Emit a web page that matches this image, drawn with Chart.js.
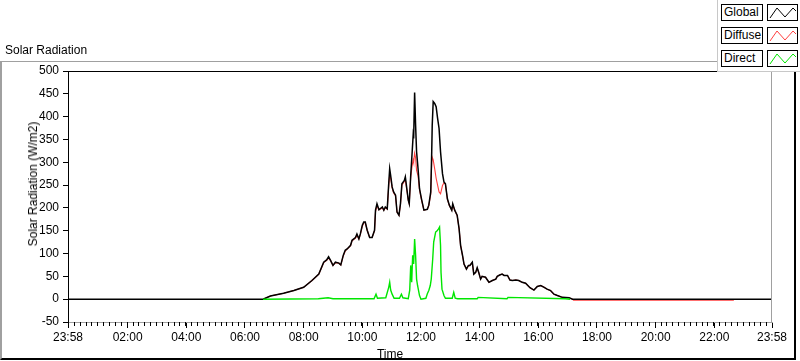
<!DOCTYPE html>
<html><head><meta charset="utf-8">
<script src="https://cdn.jsdelivr.net/npm/chart.js@4.4.1/dist/chart.umd.min.js"></script>
<style>
html,body{margin:0;padding:0;width:800px;height:361px;overflow:hidden;background:#fff;font-family:"Liberation Sans",Arial,sans-serif;font-size:12px;color:#000;}
#frame{position:absolute;left:0;top:61px;width:796px;height:299px;box-sizing:border-box;border-top:1px solid #a0a0a0;border-left:2px solid #a0a0a0;border-right:2px solid #000;border-bottom:2px solid #000;}
#c{position:absolute;left:0;top:0;}
.txt{position:absolute;white-space:nowrap;line-height:14px;}
#legend{position:absolute;left:717px;top:0;width:83px;height:72px;background:#fff;border-left:1px solid #c8c8c8;border-bottom:1px solid #c8c8c8;box-sizing:border-box;}
.lbl{position:absolute;left:3px;width:42px;height:17px;box-sizing:border-box;border:1px solid #000;padding-left:2px;line-height:15px;background:#fff;}
.sw{position:absolute;left:49px;width:31px;height:17px;box-sizing:border-box;border:1px solid #000;background:#fff;}
</style></head>
<body>
<div id="frame"></div>
<canvas id="c" width="800" height="361"></canvas>
<div class="txt" style="left:5px;top:43px;">Solar Radiation</div>
<div class="txt" style="left:33px;top:184px;transform:translate(-50%,-50%) rotate(-90deg);">Solar Radiation (W/m2)</div>
<div class="txt" style="left:390px;top:354px;transform:translate(-50%,-50%);">Time</div>
<div id="legend"></div>
<script>
// ---- data ----
const seriesNames = ["Global", "Diffuse", "Direct"];
const seriesColors = ["#000000", "#ff4040", "#00e600"];
const xTickLabels = ["23:58","02:00","04:00","06:00","08:00","10:00","12:00","14:00","16:00","18:00","20:00","22:00","23:58"];
const yTicks = [-50,0,50,100,150,200,250,300,350,400,450,500];

const globalTimes = ["23:58","06:37","06:52","07:19","07:40","08:00","08:17","08:31","08:41","08:47","08:51","08:55","09:00","09:05","09:12","09:16","09:21","09:25","09:29","09:36","09:39","09:46","09:49","09:53","09:56","10:00","10:03","10:06","10:10","10:15","10:20","10:25","10:27","10:30","10:34","10:41","10:44","10:47","10:51","10:54","10:56","10:58","11:01","11:04","11:08","11:11","11:15","11:18","11:21","11:26","11:28","11:34","11:36","11:39","11:42","11:44","11:45","11:47","11:49","11:51","11:54","11:57","12:01","12:06","12:13","12:16","12:20","12:22","12:23","12:25","12:28","12:31","12:34","12:37","12:40","12:44","12:47","12:50","12:54","12:58","13:03","13:05","13:09","13:14","13:18","13:21","13:25","13:28","13:33","13:37","13:40","13:45","13:48","13:52","13:55","13:58","14:02","14:05","14:12","14:19","14:26","14:33","14:36","14:41","14:46","14:50","14:57","15:02","15:07","15:14","15:20","15:27","15:34","15:43","15:51","15:58","16:05","16:12","16:18","16:25","16:32","16:39","16:49","17:03","17:10","23:58"];
const globalW = [0,0,7,13,19,26,41,55,81,86,93,85,74,81,79,75,96,107,110,118,129,135,143,132,143,162,169,169,151,135,135,151,195,209,196,202,195,202,198,253,286,271,246,235,228,191,184,209,253,260,268,217,209,271,323,359,352,453,381,323,286,242,220,195,197,206,235,323,381,433,429,422,396,374,323,275,257,253,220,206,195,209,195,184,154,118,96,77,66,74,74,81,55,59,69,59,44,50,48,37,41,44,50,53,55,52,52,42,41,42,41,37,35,25,20,28,30,26,22,19,11,8,4,3,0,0];

const diffuseTimes = ["06:37","06:52","07:19","07:40","08:00","08:17","08:31","08:41","08:47","08:51","08:55","09:00","09:05","09:12","09:16","09:21","09:25","09:29","09:36","09:39","09:46","09:49","09:53","09:56","10:00","10:03","10:06","10:10","10:15","10:20","10:25","10:27","10:30","10:34","10:41","10:44","10:47","10:51","10:54","10:56","10:58","11:01","11:04","11:08","11:11","11:15","11:18","11:21","11:26","11:28","11:34","11:36","11:39","11:42","11:44","11:45","11:47","11:49","11:51","11:54","11:57","12:01","12:06","12:13","12:16","12:20","12:22","12:23","12:25","12:28","12:31","12:34","12:37","12:40","12:44","12:47","12:50","12:54","12:58","13:03","13:05","13:09","13:14","13:18","13:21","13:25","13:28","13:33","13:37","13:40","13:45","13:48","13:52","13:55","13:58","14:02","14:05","14:12","14:19","14:26","14:33","14:36","14:41","14:46","14:50","14:57","15:02","15:07","15:14","15:20","15:27","15:34","15:43","15:51","15:58","16:05","16:12","16:18","16:25","16:32","16:39","16:49","17:03","17:10","17:12","22:40"];
const diffuseW = [0,7,13,19,26,41,55,80,85,90,85,74,80,79,75,95,105,110,117,128,134,140,132,142,160,167,168,151,135,135,150,192,205,196,200,195,200,197,248,272,265,244,233,226,191,184,207,250,258,262,217,209,268,293,305,300,320,310,282,270,240,218,195,197,205,230,300,311,305,286,265,250,235,231,249,255,252,219,205,195,207,195,183,154,118,95,77,66,73,74,80,55,59,68,59,44,50,48,37,41,44,50,53,55,52,52,42,41,42,41,37,35,25,20,28,30,26,22,19,11,8,4,3,0,-2.5,-2.5];

const directTimes = ["06:37","08:30","08:50","09:00","10:24","10:28","10:31","10:48","10:54","10:56","10:58","11:01","11:05","11:16","11:20","11:23","11:34","11:37","11:39","11:41","11:43","11:45","11:47","11:49","11:51","11:53","11:57","12:00","12:10","12:13","12:16","12:19","12:21","12:24","12:26","12:30","12:33","12:36","12:38","12:40","12:41","12:43","12:47","12:50","13:04","13:07","13:10","13:15","13:55","13:57","14:56","14:58","16:55","17:05"];
const directW = [0,1,3,1,1,11,2,3,26,37,20,11,2,2,11,3,1,20,74,37,96,77,132,96,44,30,8,0,2,12,19,30,44,88,125,147,150,154,158,118,59,22,8,2,2,15,2,1,1,4,1,4,1,0];

// ---- helpers ----
function toMin(s, i){ const p=s.split(":"); let m=(+p[0])*60+(+p[1]); if(i===0 && m>1380) m-=1440; return m; }
function pts(times, vals){ return times.map((t,i)=>({x:toMin(t,i), y:vals[i]})); }
const xTickVals = xTickLabels.map((t,i)=>toMin(t,i));
const xMin = xTickVals[0], xMax = xTickVals[xTickVals.length-1];

// legend (HTML text)
const leg = document.getElementById("legend");
seriesNames.forEach((n,i)=>{
  const top = 4 + i*23;
  const l = document.createElement("div"); l.className="lbl"; l.style.top=top+"px"; l.textContent=n; leg.appendChild(l);
  const s = document.createElement("div"); s.className="sw"; s.style.top=top+"px";
  s.innerHTML = '<svg width="29" height="15"><polyline points="2,13 9,3 17,12 25,3 28,6" fill="none" stroke="'+seriesColors[i]+'" stroke-width="1"/></svg>';
  leg.appendChild(s);
});

const framePlugin = {
  id:"framePlugin",
  afterDraw(chart){
    const {ctx, chartArea:a, scales:{x}} = chart;
    ctx.save();
    ctx.lineWidth=1;
    ctx.strokeStyle="#000";
    ctx.beginPath(); ctx.moveTo(a.left, a.top+0.5); ctx.lineTo(a.right, a.top+0.5); ctx.stroke();
    ctx.strokeStyle="#a0a0a0";
    ctx.beginPath(); ctx.moveTo(Math.round(a.right)-0.5, a.top); ctx.lineTo(Math.round(a.right)-0.5, a.bottom); ctx.stroke();
    // minor ticks every 12 minutes
    ctx.strokeStyle="#000";
    ctx.beginPath();
    for(let m=xMin+12; m<xMax; m+=12){
      const px = Math.round(x.getPixelForValue(m))+0.5;
      ctx.moveTo(px, a.bottom); ctx.lineTo(px, a.bottom+4);
    }
    ctx.stroke();
    ctx.restore();
  }
};

const font = {family:'"Liberation Sans", Arial, sans-serif', size:12};
new Chart(document.getElementById("c"), {
  type:"line",
  data:{ datasets:[
    {label:seriesNames[0], data:pts(globalTimes, globalW), borderColor:seriesColors[0], borderWidth:1.5, pointRadius:0, tension:0, order:1},
    {label:seriesNames[1], data:pts(diffuseTimes, diffuseW), borderColor:seriesColors[1], borderWidth:1.1, pointRadius:0, tension:0, order:2},
    {label:seriesNames[2], data:pts(directTimes, directW), borderColor:seriesColors[2], borderWidth:1.4, pointRadius:0, tension:0, order:0}
  ]},
  options:{
    responsive:false, animation:false, events:[],
    layout:{padding:{top:71, right:28, left:0, bottom:0}},
    plugins:{legend:{display:false}, tooltip:{enabled:false}},
    scales:{
      x:{type:"linear", position:"bottom", min:xMin, max:xMax,
        afterFit(s){ s.height = 39; },
        afterBuildTicks(s){ s.ticks = xTickVals.map(v=>({value:v})); },
        grid:{display:true, drawOnChartArea:false, drawTicks:true, tickLength:6, tickColor:"#000", tickWidth:1},
        border:{display:true, color:"#a0a0a0", width:1},
        ticks:{autoSkip:false, maxRotation:0, padding:2, color:"#000", font,
          callback(v){ const i = xTickVals.indexOf(v); return i>=0 ? xTickLabels[i] : ""; }}
      },
      y:{type:"linear", min:-50, max:500,
        afterFit(s){ s.width = 68; },
        afterBuildTicks(s){ s.ticks = yTicks.map(v=>({value:v})); },
        grid:{display:true, drawOnChartArea:false, drawTicks:true, tickLength:5, tickColor:"#000"},
        border:{display:true, color:"#000", width:1},
        ticks:{padding:4, color:"#000", font}
      }
    }
  },
  plugins:[framePlugin]
});
</script>
</body></html>
